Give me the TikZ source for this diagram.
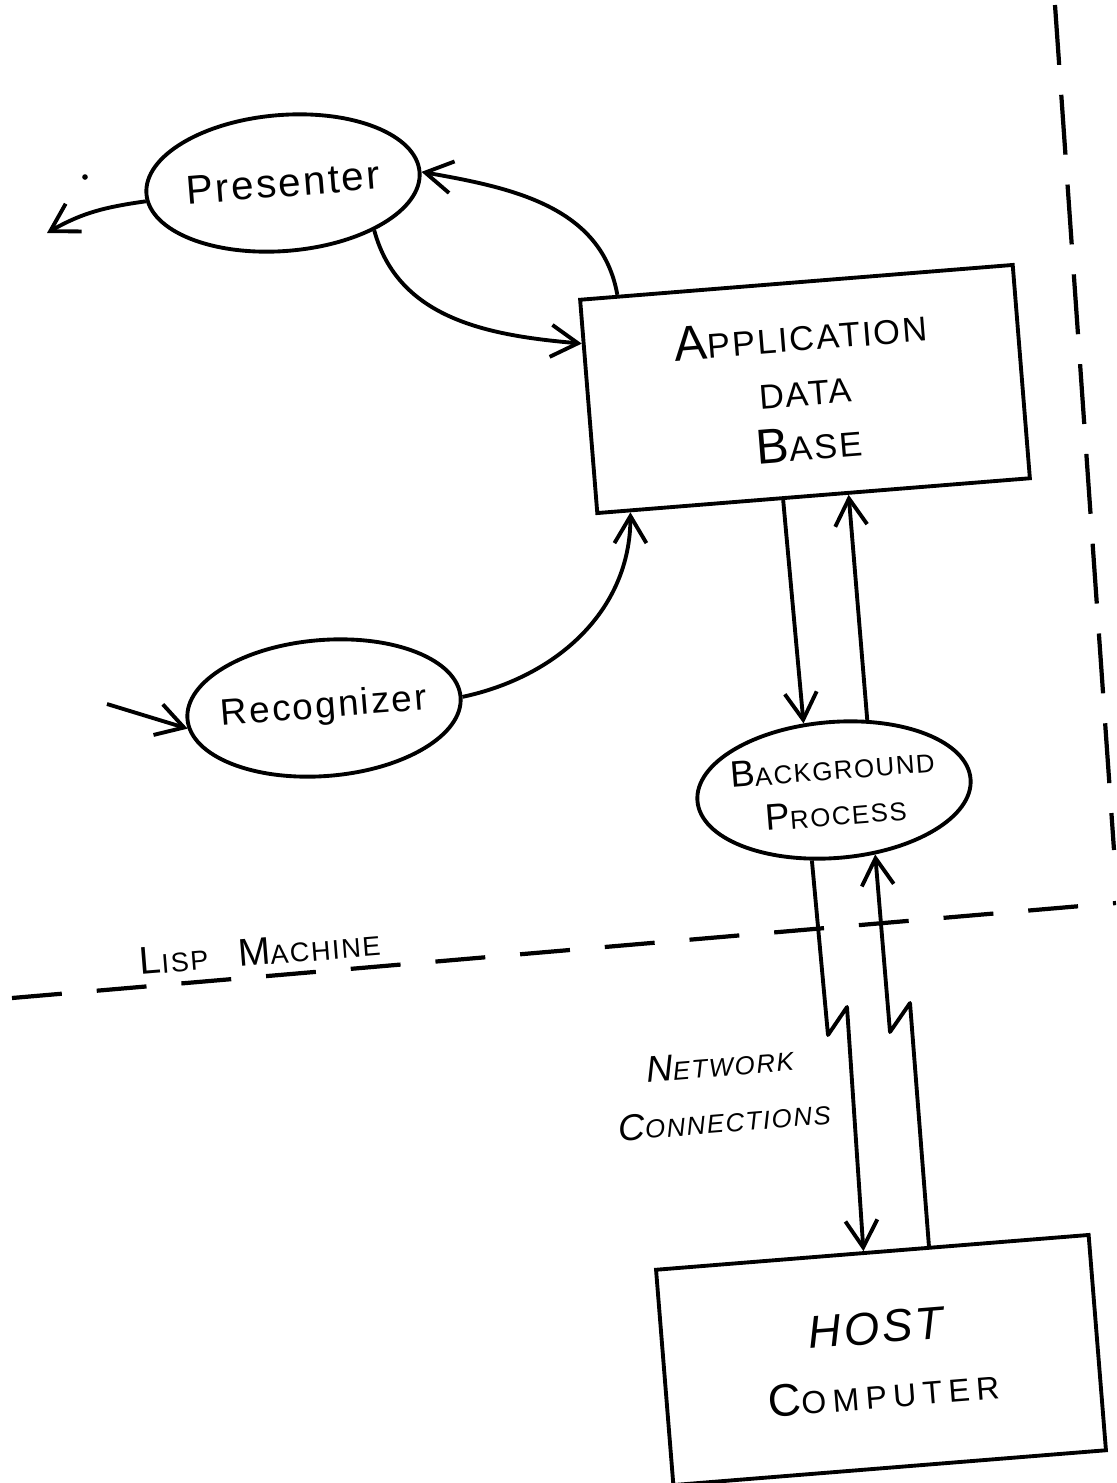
\documentclass[tikz,border=0pt]{standalone}
\usepackage{fontspec}
\usepackage{graphicx}
\usepackage{tikz}
\newfontfamily\handfont[LetterSpace=6]{Liberation Sans}
\newcommand{\hcap}[2]{#1\scalebox{0.7}{#2}}

\begin{document}
\begin{tikzpicture}[
    every node/.style={rotate=4.6,font=\handfont},
    fs/.style 2 args={font=\handfont\fontsize{#1}{#2}\selectfont},
    box/.style={draw,line width=1.1pt,minimum width=4.34cm,minimum height=2.14cm,align=center},
    blob/.style={draw,ellipse,line width=1.1pt,inner xsep=-2.3pt,inner ysep=0pt,
        minimum width=2.74cm,minimum height=1.36cm,align=center},
    flow/.style={line width=1.1pt,line join=round,-{Straight Barb[length=2.7mm,width=3.2mm]}},
    split/.style={line width=1.2pt,dash pattern=on 5mm off 3.5mm}
]
    \usetikzlibrary{arrows.meta,shapes.geometric,calc}

    % page
    \useasboundingbox (0,0) rectangle (11.16,-14.83);

    % processes and data
    \node[blob,fs={11.5}{14}] (pres) at (2.83,-1.83) {Presenter};
    \node[blob,fs={10.5}{13}] (rec) at (3.24,-7.08) {Recognizer};
    \node[blob,fs={10.5}{13}] (bgp) at (8.34,-7.90) {\hcap{B}{ACKGROUND}\\\hcap{P}{ROCESS}};

    \node[box,fs={14}{15.6}] (adb) at (8.05,-3.89)
        {\hcap{A}{PPLICATION}\\\hcap{}{DATA}\\\hcap{B}{ASE}};

    \node[box,minimum height=2.16cm,fs={13}{18.5}] (host) at (8.81,-13.60)
        {\textit{HOST}\\{\addfontfeature{LetterSpace=20}\hcap{C}{OMPUTER}}};

    % labels
    \node[fs={11}{13}] (lisp) at (2.60,-9.52) {\hcap{L}{ISP}\hspace{3mm}\hcap{M}{ACHINE}};
    \node[fs={10.5}{16},align=center] (net) at (7.22,-10.92)
        {\textit{\hcap{N}{ETWORK}}\\\textit{\hcap{C}{ONNECTIONS}}};

    % free ends
    \coordinate (pout) at (0.47,-2.33);
    \coordinate (rin) at (1.07,-7.04);

    % flows
    \draw[flow] (pres.183) to[out=188,in=30] (pout);
    \draw[flow] ($(adb.north west)!0.09!(adb.north east)$) to[out=100,in=-10] (pres.east);
    \draw[flow] (pres.-32) to[out=-75,in=175] ($(adb.north west)!0.21!(adb.south west)$);
    \draw[flow] (rin) -- (rec.184);
    \draw[flow] (rec.east) to[out=12,in=-90] ($(adb.south west)!0.08!(adb.south east)$);
    \draw[flow] ($(adb.south west)!0.43!(adb.south east)$) -- (bgp.110);
    \draw[flow] (bgp.60) -- ($(adb.south west)!0.58!(adb.south east)$);

    % network links
    \draw[flow] (bgp.248) -- (8.28,-10.35) -- (8.47,-10.07)
        -- ($(host.north west)!0.48!(host.north east)$);
    \draw[flow] ($(host.north west)!0.63!(host.north east)$) -- (9.10,-10.03)
        -- (8.90,-10.32) -- (bgp.-62);

    % machine boundary
    \draw[split] (0.12,-9.98) -- (11.16,-9.03);
    \draw[split,dash pattern=on 6mm off 3mm] (10.55,-0.05) -- (11.14,-8.50);

    \fill (0.85,-1.77) circle (0.8pt);
\end{tikzpicture}
\end{document}
